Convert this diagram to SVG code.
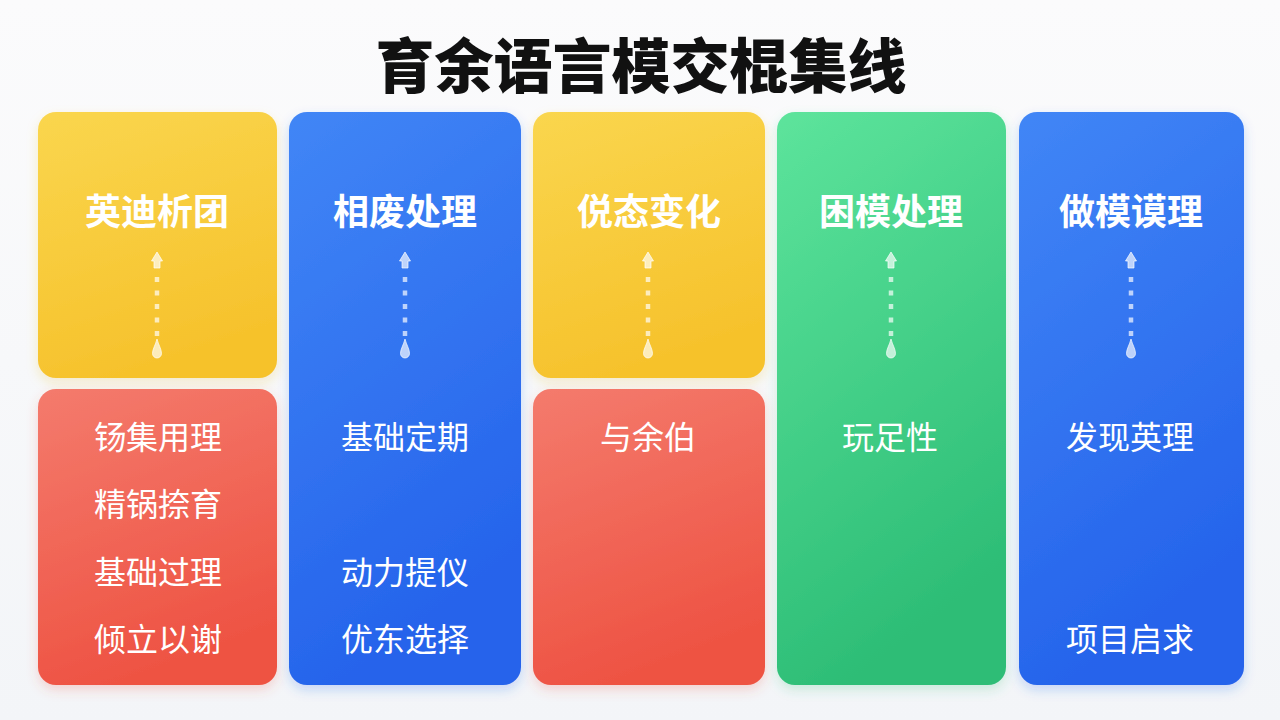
<svg xmlns="http://www.w3.org/2000/svg" width="1280" height="720" viewBox="0 0 1280 720">
<defs>
<linearGradient id="bg" x1="0" y1="0" x2="0" y2="1"><stop offset="0" stop-color="#FBFBFC"/><stop offset="1" stop-color="#F3F5F8"/></linearGradient>
<linearGradient id="gY" x1="0" y1="0" x2="0.3" y2="1"><stop offset="0" stop-color="#FAD64E"/><stop offset="1" stop-color="#F6C22C"/></linearGradient>
<linearGradient id="gB" x1="0" y1="0" x2="0.3" y2="1"><stop offset="0" stop-color="#4186F6"/><stop offset="1" stop-color="#2563EB"/></linearGradient>
<linearGradient id="gR" x1="0" y1="0" x2="0.3" y2="1"><stop offset="0" stop-color="#F47B6D"/><stop offset="1" stop-color="#EE5343"/></linearGradient>
<linearGradient id="gG" x1="0" y1="0" x2="0.3" y2="1"><stop offset="0" stop-color="#5DE49C"/><stop offset="1" stop-color="#2DBD76"/></linearGradient>
<filter id="shY" x="-20%" y="-20%" width="140%" height="140%"><feDropShadow dx="0" dy="5" stdDeviation="6" flood-color="#E8B820" flood-opacity="0.22"/></filter>
<filter id="shB" x="-20%" y="-20%" width="140%" height="140%"><feDropShadow dx="0" dy="5" stdDeviation="6" flood-color="#2563EB" flood-opacity="0.22"/></filter>
<filter id="shR" x="-20%" y="-20%" width="140%" height="140%"><feDropShadow dx="0" dy="5" stdDeviation="6" flood-color="#EE5343" flood-opacity="0.22"/></filter>
<filter id="shG" x="-20%" y="-20%" width="140%" height="140%"><feDropShadow dx="0" dy="5" stdDeviation="6" flood-color="#2DBD76" flood-opacity="0.22"/></filter>
<g id="arrow">
<path d="M0,-106 L5.5,-97 L3,-97 L3,-90 L-3,-90 L-3,-97 L-5.5,-97 Z"/>
<line x1="0" y1="-81" x2="0" y2="-22" stroke-width="4.5" stroke-dasharray="5,8.5"/>
<path d="M0,-19 C1.5,-13 4.5,-9 4.5,-4.5 A4.5,4.5 0 0 1 -4.5,-4.5 C-4.5,-9 -1.5,-13 0,-19 Z"/>
</g>
</defs>
<style>
.title{font-family:"Noto Sans CJK SC","Noto Sans",sans-serif;font-size:59px;font-weight:900;fill:#111}
.hd{font-family:"Noto Sans CJK SC","Noto Sans",sans-serif;font-size:36px;font-weight:700;fill:#fff}
.it{font-family:"Noto Sans CJK SC","Noto Sans",sans-serif;font-size:32px;font-weight:400;fill:#fff}
.arr{fill:#fff;stroke:#fff;fill-opacity:0.68;stroke-opacity:0.68}
.arr path{stroke:none}
</style>
<rect width="1280" height="720" fill="url(#bg)"/>
<text class="title" x="641" y="62" text-anchor="middle" dominant-baseline="central">育余语言模交棍集线</text>

<g id="node-yellow1">
<rect x="38" y="112" width="239" height="266" rx="18" fill="url(#gY)" filter="url(#shY)"/>
<text class="hd" x="157" y="209" text-anchor="middle" dominant-baseline="central">英迪析团</text>
</g>
<g id="node-red1">
<rect x="38" y="389" width="239" height="296" rx="18" fill="url(#gR)" filter="url(#shR)"/>
<text class="it" x="158" y="435" text-anchor="middle" dominant-baseline="central">钖集用理</text>
<text class="it" x="158" y="502" text-anchor="middle" dominant-baseline="central">精锅捺育</text>
<text class="it" x="158" y="570" text-anchor="middle" dominant-baseline="central">基础过理</text>
<text class="it" x="158" y="637" text-anchor="middle" dominant-baseline="central">倾立以谢</text>
</g>
<g id="node-blue2">
<rect x="289" y="112" width="232" height="573" rx="18" fill="url(#gB)" filter="url(#shB)"/>
<text class="hd" x="405" y="209" text-anchor="middle" dominant-baseline="central">相废处理</text>
<text class="it" x="405" y="435" text-anchor="middle" dominant-baseline="central">基础定期</text>
<text class="it" x="405" y="570" text-anchor="middle" dominant-baseline="central">动力提仪</text>
<text class="it" x="405" y="637" text-anchor="middle" dominant-baseline="central">优东选择</text>
</g>
<g id="node-yellow3">
<rect x="533" y="112" width="232" height="266" rx="18" fill="url(#gY)" filter="url(#shY)"/>
<text class="hd" x="649" y="209" text-anchor="middle" dominant-baseline="central">侻态变化</text>
</g>
<g id="node-red3">
<rect x="533" y="389" width="232" height="296" rx="18" fill="url(#gR)" filter="url(#shR)"/>
<text class="it" x="648" y="435" text-anchor="middle" dominant-baseline="central">与余伯</text>
</g>
<g id="node-green4">
<rect x="777" y="112" width="229" height="573" rx="18" fill="url(#gG)" filter="url(#shG)"/>
<text class="hd" x="891" y="209" text-anchor="middle" dominant-baseline="central">困模处理</text>
<text class="it" x="890" y="435" text-anchor="middle" dominant-baseline="central">玩足性</text>
</g>
<g id="node-blue5">
<rect x="1019" y="112" width="225" height="573" rx="18" fill="url(#gB)" filter="url(#shB)"/>
<text class="hd" x="1131" y="209" text-anchor="middle" dominant-baseline="central">做模谟理</text>
<text class="it" x="1130" y="435" text-anchor="middle" dominant-baseline="central">发现英理</text>
<text class="it" x="1130" y="637" text-anchor="middle" dominant-baseline="central">项目启求</text>
</g>

<g id="connectors" class="arr">
<use href="#arrow" x="157" y="358"/>
<use href="#arrow" x="405" y="358"/>
<use href="#arrow" x="648" y="358"/>
<use href="#arrow" x="891" y="358"/>
<use href="#arrow" x="1131" y="358"/>
</g>
</svg>
